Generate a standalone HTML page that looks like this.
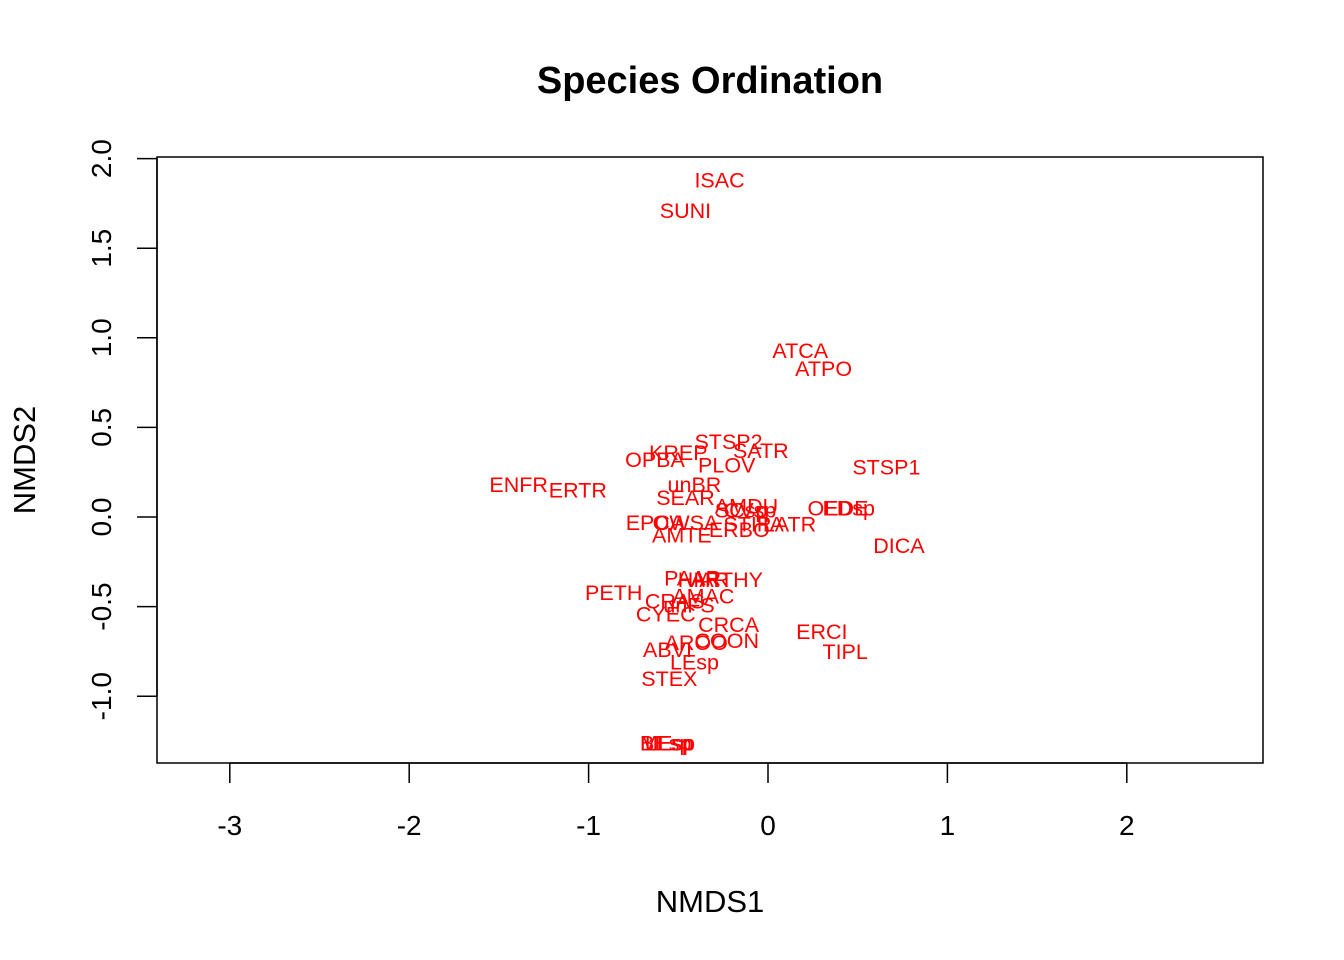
<!DOCTYPE html>
<html><head><meta charset="utf-8"><style>
html,body{margin:0;padding:0;background:#fff;}
svg{display:block;font-family:"Liberation Sans",Arial,sans-serif;}
</style></head><body>
<svg id="chart" width="1344" height="960" viewBox="0 0 1344 960">
<text x="710" y="93" text-anchor="middle" font-size="38" font-weight="bold">Species Ordination</text>
<rect x="157" y="157" width="1106" height="606" fill="none" stroke="#000" stroke-width="1.5"/>
<g id="xaxis"></g>
<g id="yaxis"></g>
<text x="710" y="912" text-anchor="middle" font-size="31">NMDS1</text>
<text transform="translate(35,460) rotate(-90)" text-anchor="middle" font-size="31">NMDS2</text>
<g id="points"></g>
</svg>
<script>
const species = ["ISAC","SUNI","ATCA","ATPO","STSP2","SATR","KREP","OPBA","PLOV","STSP1","ENFR","ERTR","unBR","SEAR","AMDU","OEDE","EDsp","SCsp","CVsp","EPCA","OWSA","STIPA","LATR","AMTE","ERBO","DICA","PAAR","HIAR","ARTHY","PETH","AMAC","CRAS","unFS","CYEC","CRCA","ERCI","AROO","COON","TIPL","ABVI","LEsp","STEX","MEsp","BEsp","LEsp"];
const nmds1 = [-0.27,-0.46,0.18,0.31,-0.22,-0.04,-0.50,-0.63,-0.23,0.66,-1.39,-1.06,-0.41,-0.46,-0.12,0.39,0.45,-0.15,-0.10,-0.63,-0.46,-0.08,0.12,-0.48,-0.16,0.73,-0.42,-0.36,-0.23,-0.86,-0.36,-0.52,-0.44,-0.57,-0.22,0.30,-0.40,-0.23,0.43,-0.56,-0.41,-0.55,-0.56,-0.57,-0.55];
const nmds2 = [1.88,1.71,0.93,0.83,0.42,0.37,0.36,0.32,0.29,0.28,0.18,0.15,0.18,0.11,0.06,0.05,0.05,0.04,0.04,-0.03,-0.03,-0.04,-0.04,-0.10,-0.07,-0.16,-0.34,-0.35,-0.35,-0.42,-0.44,-0.47,-0.49,-0.54,-0.60,-0.64,-0.70,-0.69,-0.75,-0.74,-0.81,-0.90,-1.26,-1.26,-1.26];
const xTicks = [-3,-2,-1,0,1,2];
const yTicks = [-1.0,-0.5,0.0,0.5,1.0,1.5,2.0];
const yTickLabels = ["-1.0","-0.5","0.0","0.5","1.0","1.5","2.0"];
const NS="http://www.w3.org/2000/svg";
const xs = v => 768 + 179.4*v;
const ys = v => 517 - 179.2*v;
function mk(tag, attrs, parent){const e=document.createElementNS(NS,tag);for(const k in attrs)e.setAttribute(k,attrs[k]);parent.appendChild(e);return e;}
const xg=document.getElementById('xaxis'), yg=document.getElementById('yaxis'), pg=document.getElementById('points');
mk('line',{x1:xs(-3),x2:xs(2),y1:763,y2:763,stroke:'#000','stroke-width':1.5},xg);
xTicks.forEach(t=>{
  const l=mk('line',{x1:xs(t),x2:xs(t),y1:763,y2:783,stroke:'#000','stroke-width':1.5},xg);
  
  
  const tx=mk('text',{x:xs(t),y:835,'text-anchor':'middle','font-size':28},xg);
  tx.textContent=String(t);
  
  
});
mk('line',{x1:157,x2:157,y1:ys(-1),y2:ys(2),stroke:'#000','stroke-width':1.5},yg);
yTicks.forEach((t,i)=>{
  const l=mk('line',{x1:137,x2:157,y1:ys(t),y2:ys(t),stroke:'#000','stroke-width':1.5},yg);
  
  
  const tx=mk('text',{transform:`translate(111,${ys(t)}) rotate(-90)`,'text-anchor':'middle','font-size':28},yg);
  tx.textContent=yTickLabels[i];
  
  
});
species.forEach((s,i)=>{
  const tx=mk('text',{x:xs(nmds1[i]),y:ys(nmds2[i])+7.5,'text-anchor':'middle','font-size':21.5,fill:'#ff0000'},pg);
  tx.textContent=s;
  
  
});
</script>
</body></html>
